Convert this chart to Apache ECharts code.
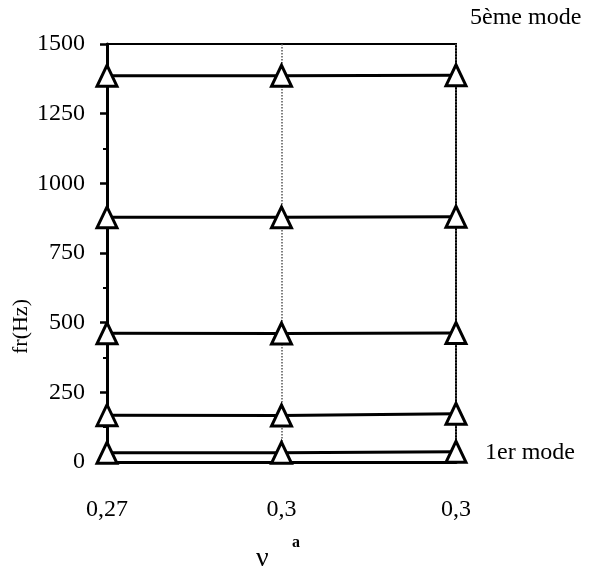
<!DOCTYPE html>
<html><head><meta charset="utf-8">
<script src="https://cdn.jsdelivr.net/npm/echarts@6/dist/echarts.min.js"></script>
<style>html,body{margin:0;padding:0;background:#fff}#c{width:591px;height:574px}</style>
</head><body><div id="c"></div>
<script>
var categories = ['0,27', '0,3', '0,3'];
var mode1 = [33, 33, 37];
var mode2 = [168, 167, 173];
var mode3 = [462, 461, 463];
var mode4 = [878, 878, 880];
var mode5 = [1386, 1386, 1388];
var yTicks = [0, 250, 500, 750, 1000, 1250, 1500];

var modes = [mode1, mode2, mode3, mode4, mode5];
var font = 'Liberation Serif';
var chart = echarts.init(document.getElementById('c'));
chart.setOption({
  animation: false,
  grid: {left: 107, right: 135, top: 44, bottom: 112, show: true, borderColor: '#000', borderWidth: 2, backgroundColor: 'transparent'},
  xAxis: {
    type: 'category', data: categories, boundaryGap: false,
    axisLine: {lineStyle: {color: '#000', width: 3}},
    axisTick: {show: false},
    axisLabel: {color: '#000', fontFamily: font, fontSize: 24, margin: 36},
    splitLine: {show: true, lineStyle: {color: '#555', width: 1.5, type: 'dotted'}}
  },
  yAxis: {
    type: 'value', min: yTicks[0], max: yTicks[yTicks.length - 1], interval: 250,
    axisLine: {show: true, lineStyle: {color: '#000', width: 3}},
    axisTick: {show: true, inside: false, length: 7, lineStyle: {color: '#000', width: 2.5}},
    minorTick: {show: true, splitNumber: 2, length: 4, lineStyle: {color: '#000', width: 2}},
    axisLabel: {color: '#000', fontFamily: font, fontSize: 24, margin: 22, formatter: function (v) { return String(v); }},
    splitLine: {show: false}
  },
  series: modes.map(function (m) {
    return {
      type: 'line', data: m, symbol: 'triangle', symbolSize: [20, 21],
      lineStyle: {color: '#000', width: 3},
      itemStyle: {color: '#fff', borderColor: '#000', borderWidth: 3},
      z: 5
    };
  }),
  graphic: [
    {type: 'text', left: 470, top: 6, style: {text: '5ème mode', font: '24px "Liberation Serif"', fill: '#000'}},
    {type: 'text', left: 485, top: 441, style: {text: '1er mode', font: '24px "Liberation Serif"', fill: '#000'}},
    {type: 'text', x: 10, y: 354, rotation: Math.PI / 2, style: {text: 'fr(Hz)', font: '22px "Liberation Serif"', fill: '#000'}},
    {type: 'text', left: 256, top: 545, style: {text: 'ν', font: '28px "Liberation Serif"', fill: '#000'}},
    {type: 'text', left: 292, top: 535, style: {text: 'a', font: 'bold 16px "Liberation Serif"', fill: '#000'}}
  ]
});
</script></body></html>
